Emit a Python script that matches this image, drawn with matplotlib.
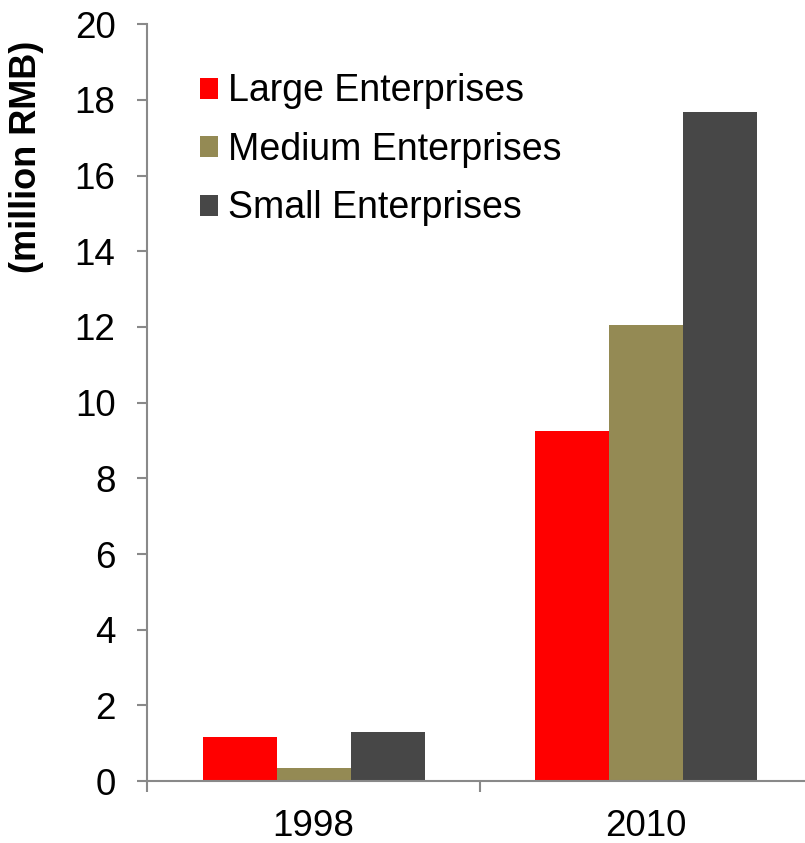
import matplotlib
matplotlib.use("Agg")
import matplotlib.pyplot as plt
import numpy as np

years = ["1998", "2010"]
series = ["Large Enterprises", "Medium Enterprises", "Small Enterprises"]
large = [1.17, 9.25]
medium = [0.34, 12.05]
small = [1.30, 17.69]
colors = ["#FF0000", "#948A54", "#474747"]
yticks = [0, 2, 4, 6, 8, 10, 12, 14, 16, 18, 20]

plt.rcParams['font.family'] = ['Liberation Sans', 'DejaVu Sans']

fig = plt.figure(figsize=(8.05, 8.43), dpi=100)
ax = fig.add_axes([0.1832, 0.0735, 0.8255, 0.8977])

x = np.arange(len(years))
w = 0.2226
for i, (vals, name) in enumerate(zip([large, medium, small], series)):
    ax.bar(x + (i - 1) * w, vals, w, color=colors[i], label=name, linewidth=0)

ax.set_xlim(-0.5, 1.5)
ax.set_ylim(0, 20)
ax.set_yticks(yticks)

# category boundaries get the tick marks, labels sit in the middle
ax.set_xticks([-0.5, 0.5, 1.5])
ax.set_xticklabels([])
ax.set_xticks(x, minor=True)
ax.set_xticklabels(years, minor=True)
ax.tick_params(axis='x', which='minor', length=0, pad=20, labelsize=26.5)
ax.tick_params(axis='x', which='major', length=8, width=1.5, color='#898989')
ax.tick_params(axis='y', length=7, width=1.5, color='#898989', pad=16, labelsize=26.5)

for s in ['top', 'right']:
    ax.spines[s].set_visible(False)
for s in ['left', 'bottom']:
    ax.spines[s].set_color('#898989')
    ax.spines[s].set_linewidth(1.5)

ax.set_ylabel("(million RMB)", fontsize=26, fontweight='bold')
ax.yaxis.set_label_coords(-0.155, 0.825)
ax.yaxis.label.set_verticalalignment('bottom')

ax.legend(loc='upper left', bbox_to_anchor=(0.079, 0.935), frameon=False,
          fontsize=27, handlelength=0.48, handleheight=0.48, handletextpad=0.27,
          labelspacing=0.6, borderaxespad=0, borderpad=0)

fig.savefig("out.png", dpi=100)
